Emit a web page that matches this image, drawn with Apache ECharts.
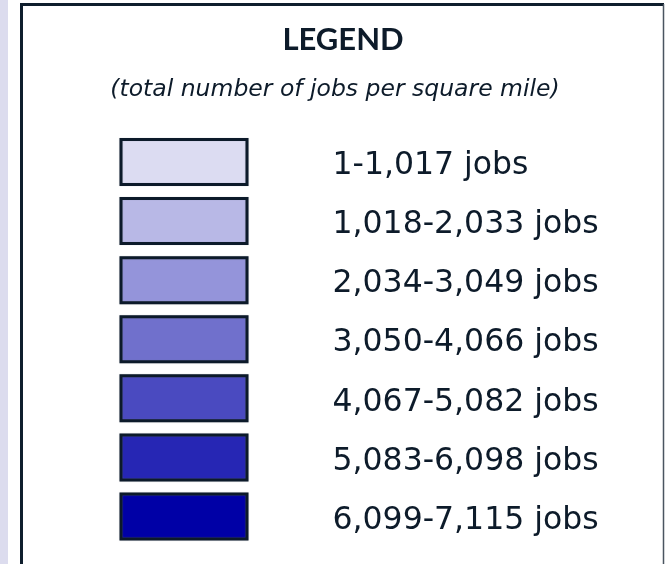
<!DOCTYPE html>
<html>
<head>
<meta charset="utf-8">
<script src="https://cdn.jsdelivr.net/npm/echarts@6/dist/echarts.min.js"></script>
<style>
html,body{margin:0;padding:0;background:#fff;}
#chart{width:666px;height:564px;}
</style>
</head>
<body>
<div id="chart"></div>
<script>
var title = 'LEGEND';
var subtitle = '(total number of jobs per square mile)';
var classLabels = ['1-1,017 jobs','1,018-2,033 jobs','2,034-3,049 jobs','3,050-4,066 jobs','4,067-5,082 jobs','5,083-6,098 jobs','6,099-7,115 jobs'];
var classColors = ['#dcdcf2','#b8b8e6','#9494da','#7070cc','#4a4ac0','#2626b4','#0000a6'];
var swatchValues = [1,1,1,1,1,1,1];

var ink = '#0d1b2a';

var chart = echarts.init(document.getElementById('chart'), null, {renderer:'canvas'});
chart.setOption({
  backgroundColor:'#ffffff',
  animation:false,
  grid:{left:119.5, width:129, top:132.5, height:413.5, containLabel:false},
  xAxis:{type:'value', min:0, max:1, show:false},
  yAxis:{
    type:'category', data:classLabels, inverse:true, show:false
  },
  series:[{
    type:'bar', barWidth:48,
    data: swatchValues.map(function(v,i){return {value:v, itemStyle:{color:classColors[i]}};}),
    itemStyle:{borderColor:'#0c1a2a', borderWidth:3, shadowColor:'rgba(120,130,140,0.5)', shadowBlur:1},
    label:{show:true, position:'right', distance:84, formatter:'{b}', offset:[0,4],
      color:ink, fontFamily:'DejaVu Sans', fontSize:31.5}
  }],
  graphic:[
    {type:'rect', shape:{x:0,y:0,width:8,height:564}, style:{fill:'#dcdcee'}, silent:true},
    {type:'line', shape:{x1:21.5,y1:3,x2:21.5,y2:564}, style:{stroke:'#0f1e2d', lineWidth:3}},
    {type:'line', shape:{x1:20,y1:4.5,x2:664,y2:4.5}, style:{stroke:'#0f1e2d', lineWidth:3}},
    {type:'line', shape:{x1:663.5,y1:4,x2:663.5,y2:564}, style:{stroke:'#4a5560', lineWidth:1.5}},
    {type:'text', x:343, y:40, style:{text:title, fill:ink, font:'bold 31px Lato', textAlign:'center', textVerticalAlign:'middle'}},
    {type:'text', x:335, y:90, style:{text:subtitle, fill:ink, font:'oblique 23.5px "DejaVu Sans"', textAlign:'center', textVerticalAlign:'middle'}}
  ]
});
</script>
</body>
</html>
